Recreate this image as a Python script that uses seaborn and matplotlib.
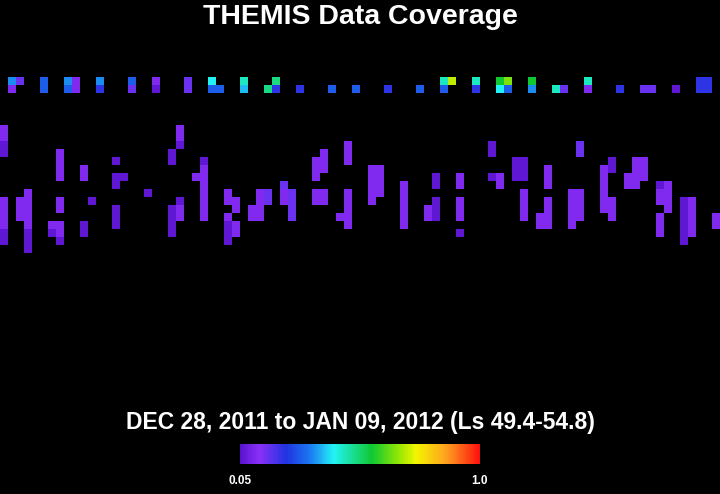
import numpy as np
import matplotlib
matplotlib.use("Agg")
import matplotlib.pyplot as plt
from matplotlib.colors import LinearSegmentedColormap
import seaborn as sns

title = "THEMIS Data Coverage"
subtitle = "DEC 28, 2011 to JAN 09, 2012 (Ls 49.4-54.8)"
vmin, vmax = 0.05, 1.0
tick_labels = ["0.05", "1.0"]
n_rows, n_cols = 22, 90

# coverage level per colour code
levels = {"p": 0.06, "q": 0.11, "v": 0.16, "i": 0.22, "b": 0.29, "d": 0.34,
          "s": 0.38, "c": 0.42, "t": 0.46, "h": 0.51, "g": 0.57, "l": 0.66,
          "y": 0.71}

# top strip: column -> codes for rows 0 and 1
top_cells = {1: "dq", 2: "v.", 5: "bb", 8: "db", 9: "qq", 12: "di", 16: "bv",
             19: "qp", 23: "vv", 26: "cb", 27: ".b", 30: "ts", 33: ".h", 34: "hi",
             37: ".i", 41: ".b", 44: ".b", 48: ".i", 52: ".b", 55: "tb", 56: "y.",
             59: "ti", 62: "gc", 63: "lb", 66: "gd", 69: ".t", 70: ".v", 73: "tq",
             77: ".i", 80: ".v", 81: ".v", 84: ".p", 87: "ii", 88: "ii"}

# main band: column -> codes for rows 6..21
band_cells = {
    0: "qqpp.....qqqqpp.", 2: ".........qqq....", 3: "........qqqqqppp",
    6: "............qp..", 7: "...qqqq..qq.qqp.", 10: ".....qq.....pp..",
    11: ".........p......", 14: "....p.pp..ppp...", 15: "......p.........",
    18: "........p.......", 21: "...pp.....pppp..", 22: "qqp......pqq....",
    24: "......q.........", 25: "....pqqqqqqq....", 28: "........qq.qppp.",
    29: ".........qq.qq..", 31: "..........qq....", 32: "........qqqq....",
    33: "........vv......", 35: ".......vqq......", 36: "........vvvv....",
    39: "....qqq.qq......", 40: "...qqq..qq......", 42: "...........q....",
    43: "..qqq...qqqqq...", 46: ".....qqqqq......", 47: ".....qqqq.......",
    50: ".......qqqqqq...", 53: "..........qq....", 54: "......pp.ppp....",
    57: "......qq.qqq.p..", 61: "..pp..p.........", 62: "......qq........",
    64: "....ppp.........", 65: "....ppp.qqqq....", 67: "...........qq...",
    68: ".....qqq.qqqq...", 71: "........qqqqq...", 72: "..vv....qqqq....",
    75: ".....qqqqqq.....", 76: "....pp...qqq....", 78: "......qq........",
    79: "....qqqq........", 80: "....qqq.........", 82: ".......pqq.qqq..",
    83: ".......qqqq.....", 85: ".........pppppp.", 86: ".........qqqqq..",
    89: "...........qq...",
}

grid = np.full((n_rows, n_cols), np.nan)
for col, codes in top_cells.items():
    for i, ch in enumerate(codes):
        if ch != ".":
            grid[i, col] = levels[ch]
for col, codes in band_cells.items():
    for i, ch in enumerate(codes):
        if ch != ".":
            grid[6 + i, col] = levels[ch]

cmap = LinearSegmentedColormap.from_list("themis", [
    (0.00, "#5a14d0"), (0.08, "#8a30f8"), (0.19, "#2034e0"), (0.29, "#1a78f0"),
    (0.39, "#22f4f4"), (0.55, "#10c830"), (0.67, "#a0e800"), (0.735, "#f4f400"),
    (0.86, "#ffa020"), (1.00, "#ff1010")])

sns.set_style("dark")
plt.rcParams["font.family"] = ["Liberation Sans", "DejaVu Sans"]

fig = plt.figure(figsize=(7.2, 4.94), dpi=100, facecolor="black")
ax = fig.add_axes([0, 1 - 253 / 494, 1, 176 / 494])
cax = fig.add_axes([240 / 720, 1 - 464 / 494, 240 / 720, 20 / 494])

sns.heatmap(grid, ax=ax, cmap=cmap, vmin=vmin, vmax=vmax, cbar_ax=cax,
            cbar_kws={"orientation": "horizontal"},
            xticklabels=False, yticklabels=False)
ax.set_facecolor("black")
ax.tick_params(length=0)

cbar = ax.collections[0].colorbar
cbar.outline.set_visible(False)
cax.set_xticks([])
cax.tick_params(length=0)

fig.text(0.5, 1 - 23.5 / 494, title, color="white", fontsize=20.5,
         fontweight="bold", ha="center", va="baseline")
fig.text(0.5, 1 - 429.5 / 494, subtitle, color="white", fontsize=16.5,
         fontweight="bold", ha="center", va="baseline")
fig.text(240 / 720, 1 - 483.5 / 494, tick_labels[0], color="white", fontsize=8.5,
         fontweight="bold", ha="center", va="baseline")
fig.text(479 / 720, 1 - 483.5 / 494, tick_labels[1], color="white", fontsize=8.5,
         fontweight="bold", ha="center", va="baseline")

fig.savefig("out.png", dpi=100, facecolor="black")
